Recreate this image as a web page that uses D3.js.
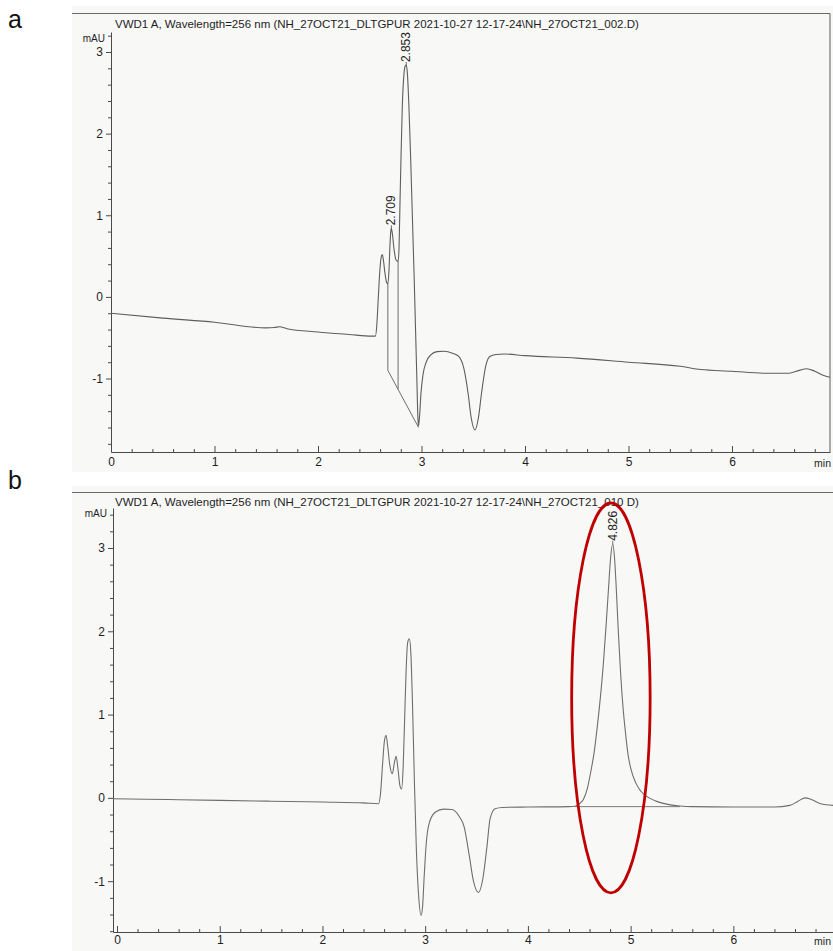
<!DOCTYPE html>
<html><head><meta charset="utf-8">
<script src="https://cdn.jsdelivr.net/npm/d3@7"></script>
<style>
html,body{margin:0;padding:0;background:#fff;}
svg{display:block;font-family:"Liberation Sans",Arial,Helvetica,sans-serif;}
</style></head><body>
<svg id="chart" width="833" height="951"></svg>
<script>
// Chromatogram headers
const titleA = "VWD1 A, Wavelength=256 nm (NH_27OCT21_DLTGPUR 2021-10-27 12-17-24\\NH_27OCT21_002.D)";
const titleB = "VWD1 A, Wavelength=256 nm (NH_27OCT21_DLTGPUR 2021-10-27 12-17-24\\NH_27OCT21_010 D)";
const panelLetters = ["a", "b"];

// Axis ticks
const yTicks = [-1, 0, 1, 2, 3];
const xTicks = [0, 1, 2, 3, 4, 5, 6];
const yUnit = "mAU";
const xUnit = "min";

// Trace a: [time (min), signal (mAU)]
const traceA = [
  [0, -0.20], [0.5, -0.26], [1.0, -0.31], [1.5, -0.38], [1.58, -0.375], [1.63, -0.365],
  [1.7, -0.39], [2.0, -0.43], [2.3, -0.46], [2.52, -0.48], [2.555, -0.48],
  [2.568, -0.35], [2.583, 0.0], [2.598, 0.33], [2.61, 0.48], [2.621, 0.52], [2.633, 0.44],
  [2.648, 0.28], [2.665, 0.17], [2.675, 0.16], [2.685, 0.30], [2.695, 0.62], [2.703, 0.80],
  [2.709, 0.84], [2.718, 0.78], [2.735, 0.58], [2.755, 0.45], [2.774, 0.435],
  [2.783, 0.60], [2.793, 1.20], [2.802, 1.70], [2.815, 2.35], [2.83, 2.72], [2.843, 2.83],
  [2.853, 2.84], [2.863, 2.75], [2.878, 2.35], [2.896, 1.67], [2.93, 0.20], [2.955, -1.00],
  [2.966, -1.50], [2.972, -1.58], [2.982, -1.45], [2.995, -1.18], [3.015, -0.95],
  [3.045, -0.80], [3.09, -0.71], [3.15, -0.67], [3.22, -0.665], [3.30, -0.69], [3.36, -0.73],
  [3.41, -0.88], [3.45, -1.18], [3.48, -1.48], [3.517, -1.63], [3.55, -1.48], [3.58, -1.18],
  [3.62, -0.85], [3.66, -0.73], [3.72, -0.705], [3.8, -0.70], [4.0, -0.72], [4.5, -0.75],
  [5.0, -0.80], [5.5, -0.85], [5.7, -0.89], [6.0, -0.91], [6.3, -0.935], [6.55, -0.935],
  [6.65, -0.90], [6.72, -0.88], [6.8, -0.91], [6.88, -0.96], [6.947, -0.985]
];

// Trace b: [time (min), signal (mAU)]
const traceB = [
  [-0.039, -0.01], [0.5, -0.02], [1.0, -0.03], [1.5, -0.04], [2.0, -0.05], [2.4, -0.06],
  [2.545, -0.07], [2.565, 0.05], [2.585, 0.40], [2.603, 0.68], [2.619, 0.75], [2.635, 0.62],
  [2.655, 0.40], [2.68, 0.29], [2.70, 0.42], [2.717, 0.50], [2.735, 0.35], [2.755, 0.14],
  [2.77, 0.105], [2.785, 0.35], [2.80, 0.95], [2.815, 1.55], [2.83, 1.87], [2.846, 1.91],
  [2.86, 1.75], [2.875, 1.20], [2.895, 0.20], [2.915, -0.65], [2.935, -1.15], [2.96, -1.41],
  [2.975, -1.30], [2.99, -0.95], [3.01, -0.55], [3.04, -0.30], [3.10, -0.17], [3.18, -0.135],
  [3.26, -0.14], [3.33, -0.22], [3.38, -0.35], [3.43, -0.70], [3.47, -1.00], [3.518, -1.135],
  [3.56, -0.98], [3.60, -0.60], [3.632, -0.25], [3.68, -0.13], [3.75, -0.115], [4.0, -0.11],
  [4.4, -0.105], [4.46, -0.10], [4.50, -0.07], [4.54, -0.02], [4.58, 0.12], [4.61, 0.30],
  [4.645, 0.55], [4.675, 0.85], [4.705, 1.20], [4.735, 1.62], [4.76, 2.05], [4.785, 2.52],
  [4.805, 2.88], [4.826, 3.05], [4.845, 2.85], [4.86, 2.52], [4.88, 2.00], [4.90, 1.55],
  [4.925, 1.10], [4.95, 0.78], [4.975, 0.52], [5.0, 0.36], [5.05, 0.18], [5.1, 0.08],
  [5.18, 0.0], [5.26, -0.045], [5.35, -0.075], [5.48, -0.097], [5.6, -0.105], [6.0, -0.11],
  [6.4, -0.11], [6.55, -0.09], [6.63, -0.04], [6.7, 0.0], [6.76, -0.02], [6.85, -0.07],
  [6.97, -0.09]
];

// Retention-time labels
const peaksA = [{rt: 2.709, label: "2.709"}, {rt: 2.853, label: "2.853"}];
const peaksB = [{rt: 4.826, label: "4.826"}];

// Integration baselines: drop lines [time, baseline value] and baseline segments
const dropsA = [[2.675, -0.90], [2.774, -1.13]];
const baselineA = [[2.675, -0.90], [2.972, -1.60]];
const baselineB = [[4.46, -0.105], [5.48, -0.105]];

// Highlight around the 4.826 min peak: centre and half extents
const highlightB = {t: 4.808, v: 1.20, dt: 0.382, dv: 2.34};

const svg = d3.select("#chart");
const axisColor = "#4a4a4a";
const textColor = "#1e1e1e";
const plainNumber = d => String(d);   // keeps an ASCII hyphen for negatives

function valueAt(trace, t) {
  const p = trace.find(d => Math.abs(d[0] - t) < 1e-9);
  if (p) return p[1];
  const i = d3.bisector(d => d[0]).left(trace, t);
  const a = trace[i - 1], b = trace[i];
  return a[1] + (b[1] - a[1]) * (t - a[0]) / (b[0] - a[0]);
}

function drawPanel(cfg) {
  const g = svg.append("g");
  const x = d3.scaleLinear().domain(cfg.xDomain).range(cfg.xRange);
  const y = d3.scaleLinear().domain(cfg.yDomain).range(cfg.yRange);
  const [x0, x1] = cfg.xRange;
  const [yb, yt] = cfg.yRange;

  // paper area
  g.append("rect").attr("x", cfg.paper[0]).attr("y", cfg.paper[1])
    .attr("width", cfg.paper[2]).attr("height", cfg.paper[3]).attr("fill", "#f8f8f7");

  // header rule and frame
  g.append("line").attr("x1", 72).attr("x2", cfg.frameRight ? x1 : 833)
    .attr("y1", cfg.ruleY).attr("y2", cfg.ruleY)
    .attr("stroke", "#6a6a6a").attr("stroke-width", 1.2);
  if (cfg.frameRight) {
    g.append("line").attr("x1", x1).attr("x2", x1).attr("y1", cfg.ruleY).attr("y2", yb)
      .attr("stroke", "#6a6a6a").attr("stroke-width", 1.1);
  }

  // panel letter
  g.append("text").attr("x", 8).attr("y", cfg.letterY).attr("font-size", 25)
    .attr("fill", "#111").text(cfg.letter);

  // header text
  g.append("text").attr("x", 115).attr("y", cfg.titleY).attr("font-size", 11.5)
    .attr("fill", textColor).text(cfg.title);

  // y axis
  const yMinor = d3.range(Math.ceil(cfg.yDomain[0] / 0.2) * 0.2, cfg.yDomain[1], 0.2)
    .filter(v => Math.abs(v - Math.round(v)) > 1e-6);
  g.append("g").attr("transform", `translate(${x0},0)`)
    .call(d3.axisLeft(y).tickValues(yTicks).tickSizeInner(5).tickSizeOuter(0)
      .tickPadding(3).tickFormat(plainNumber));
  g.append("g").attr("transform", `translate(${x0},0)`)
    .call(d3.axisLeft(y).tickValues(yMinor).tickSizeInner(3).tickSizeOuter(0).tickFormat(""))
    .select(".domain").remove();
  g.append("text").attr("x", x0 - 6).attr("y", cfg.unitY).attr("text-anchor", "end")
    .attr("font-size", 10).attr("fill", textColor).text(yUnit);

  // x axis
  const xMinor = d3.range(0, cfg.xDomain[1], 0.2)
    .filter(v => Math.abs(v - Math.round(v)) > 1e-6);
  g.append("g").attr("transform", `translate(0,${yb})`)
    .call(d3.axisBottom(x).tickValues(xTicks).tickSizeInner(-6).tickSizeOuter(0)
      .tickPadding(cfg.xPad).tickFormat(plainNumber));
  g.append("g").attr("transform", `translate(0,${yb})`)
    .call(d3.axisBottom(x).tickValues(xMinor).tickSizeInner(-3).tickSizeOuter(0).tickFormat(""))
    .select(".domain").remove();
  g.append("text").attr("x", 831).attr("y", yb + cfg.xPad + 10).attr("text-anchor", "end")
    .attr("font-size", 10.5).attr("fill", textColor).text(xUnit);

  g.selectAll(".domain, .tick line").attr("stroke", axisColor).attr("stroke-width", 1);
  g.selectAll(".tick text").attr("font-size", 12).attr("fill", textColor)
    .attr("font-family", "'Liberation Sans', Arial, sans-serif");

  // integration marks
  (cfg.drops || []).forEach(([t, b]) => {
    g.append("line").attr("x1", x(t)).attr("x2", x(t))
      .attr("y1", y(valueAt(cfg.trace, t))).attr("y2", y(b))
      .attr("stroke", cfg.traceColor).attr("stroke-width", 0.9);
  });
  if (cfg.baseline) {
    g.append("path").datum(cfg.baseline)
      .attr("d", d3.line().x(d => x(d[0])).y(d => y(d[1])))
      .attr("fill", "none").attr("stroke", cfg.traceColor).attr("stroke-width", 0.9);
  }

  // signal trace
  g.append("path").datum(cfg.trace)
    .attr("d", d3.line().x(d => x(d[0])).y(d => y(d[1])).curve(d3.curveMonotoneX))
    .attr("fill", "none").attr("stroke", cfg.traceColor).attr("stroke-width", 1.1)
    .attr("stroke-linejoin", "round");

  // retention time labels
  cfg.peaks.forEach(p => {
    const px = x(p.rt), py = y(valueAt(cfg.trace, p.rt));
    g.append("line").attr("x1", px).attr("x2", px).attr("y1", py).attr("y2", py - 3)
      .attr("stroke", cfg.traceColor).attr("stroke-width", 0.9);
    g.append("text").attr("transform", `translate(${px + 4},${py - 3}) rotate(-90)`)
      .attr("font-size", 12).attr("fill", textColor).text(p.label);
  });

  return {x, y, g};
}

drawPanel({
  letter: panelLetters[0], title: titleA, trace: traceA, peaks: peaksA,
  drops: dropsA, baseline: baselineA, traceColor: "#5e5e5e",
  xDomain: [0, 6.947], xRange: [111, 830],
  yDomain: [-1.9, 3.245], yRange: [452, 32],
  paper: [72, 6, 761, 466], ruleY: 13.5, titleY: 28, letterY: 28, unitY: 42,
  frameRight: true, xPad: 5
});

const pb = drawPanel({
  letter: panelLetters[1], title: titleB, trace: traceB, peaks: peaksB,
  drops: [], baseline: baselineB, traceColor: "#6e6e6e",
  xDomain: [-0.039, 6.97], xRange: [113, 833],
  yDomain: [-1.61, 3.48], yRange: [932, 508],
  paper: [72, 486, 761, 465], ruleY: 492.5, titleY: 506, letterY: 489, unitY: 517,
  frameRight: false, xPad: 3
});

// highlight ellipse around the 4.826 min peak
pb.g.append("ellipse")
  .attr("cx", pb.x(highlightB.t)).attr("cy", pb.y(highlightB.v))
  .attr("rx", pb.x(highlightB.t + highlightB.dt) - pb.x(highlightB.t))
  .attr("ry", pb.y(highlightB.v - highlightB.dv) - pb.y(highlightB.v))
  .attr("fill", "none").attr("stroke", "#c00000").attr("stroke-width", 2.8);
</script>
</body></html>
